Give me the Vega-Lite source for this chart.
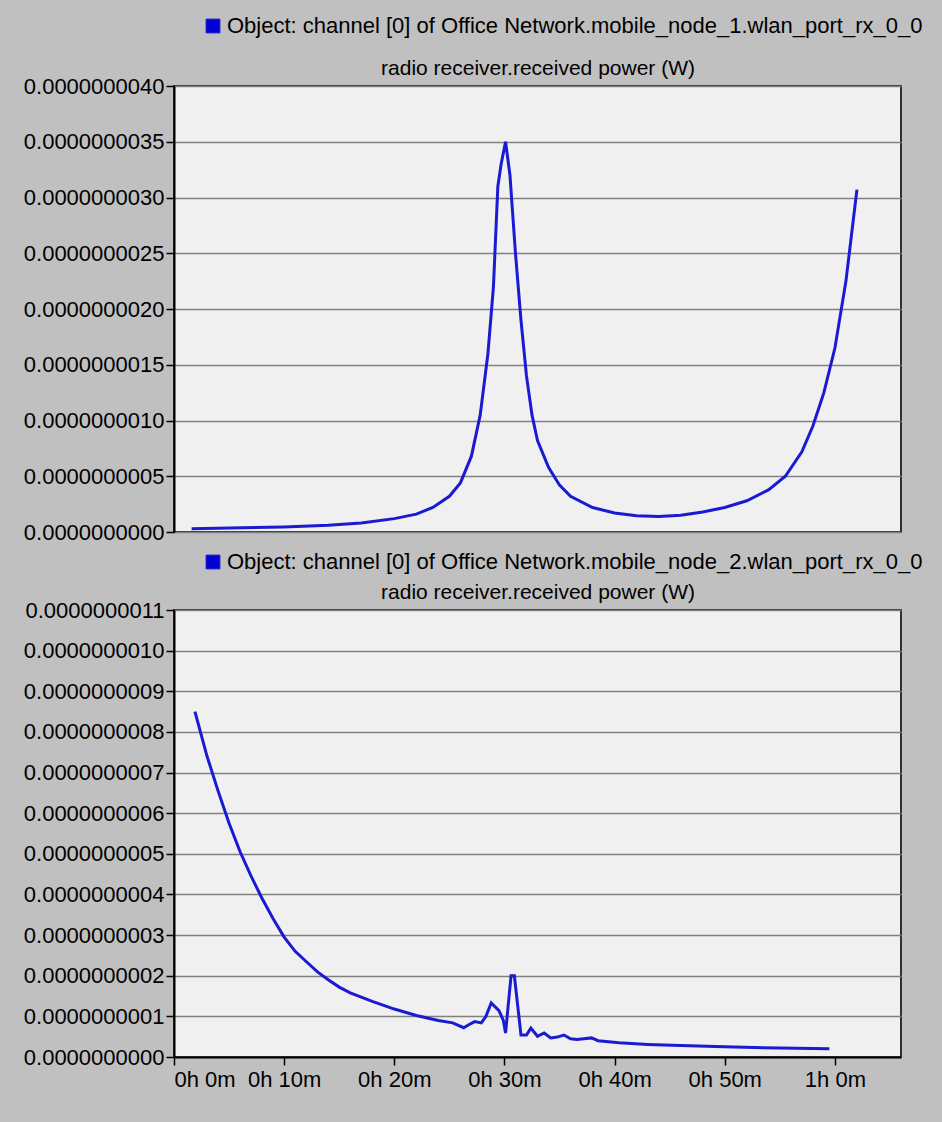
{
  "$schema": "https://vega.github.io/schema/vega-lite/v6.json",
  "background": "#c0c0c0",
  "padding": {"left": 22, "top": 14, "right": 40, "bottom": 32},
  "spacing": 6,
  "config": {
    "font": "Liberation Sans",
    "view": {"fill": "#f0f0f0", "stroke": "#303030", "strokeWidth": 2},
    "axis": {
      "labelFont": "Liberation Sans",
      "labelFontSize": 22,
      "labelColor": "#000000",
      "domainColor": "#000000",
      "domainWidth": 2,
      "tickColor": "#000000",
      "tickWidth": 1.5,
      "tickSize": 8,
      "labelPadding": 2,
      "gridColor": "#808080",
      "gridWidth": 1.5,
      "gridOpacity": 1,
      "titleFont": "Liberation Sans",
      "titleFontSize": 21,
      "titleFontWeight": "normal",
      "titleColor": "#000000"
    },
    "legend": {
      "labelFont": "Liberation Sans",
      "labelFontSize": 22,
      "labelColor": "#000000",
      "labelLimit": 0,
      "symbolType": "square",
      "symbolSize": 190,
      "symbolStrokeColor": "#000030",
      "symbolStrokeWidth": 1,
      "symbolOpacity": 1,
      "symbolFillColor": "#0000d0",
      "labelOffset": 3
    }
  },
  "datasets": {
    "node1": [
      {"minutes": 1.6, "power": 0.03e-9},
      {"minutes": 5, "power": 0.035e-9},
      {"minutes": 10, "power": 0.045e-9},
      {"minutes": 14, "power": 0.06e-9},
      {"minutes": 17, "power": 0.08e-9},
      {"minutes": 20, "power": 0.12e-9},
      {"minutes": 22, "power": 0.16e-9},
      {"minutes": 23.5, "power": 0.22e-9},
      {"minutes": 25, "power": 0.32e-9},
      {"minutes": 26, "power": 0.44e-9},
      {"minutes": 27, "power": 0.68e-9},
      {"minutes": 27.8, "power": 1.05e-9},
      {"minutes": 28.5, "power": 1.6e-9},
      {"minutes": 29, "power": 2.2e-9},
      {"minutes": 29.4, "power": 3.1e-9},
      {"minutes": 29.7, "power": 3.3e-9},
      {"minutes": 30.1, "power": 3.5e-9},
      {"minutes": 30.5, "power": 3.2e-9},
      {"minutes": 31, "power": 2.5e-9},
      {"minutes": 31.5, "power": 1.9e-9},
      {"minutes": 32, "power": 1.4e-9},
      {"minutes": 32.5, "power": 1.05e-9},
      {"minutes": 33, "power": 0.82e-9},
      {"minutes": 34, "power": 0.58e-9},
      {"minutes": 35, "power": 0.42e-9},
      {"minutes": 36, "power": 0.32e-9},
      {"minutes": 38, "power": 0.22e-9},
      {"minutes": 40, "power": 0.17e-9},
      {"minutes": 42, "power": 0.145e-9},
      {"minutes": 44, "power": 0.14e-9},
      {"minutes": 46, "power": 0.15e-9},
      {"minutes": 48, "power": 0.18e-9},
      {"minutes": 50, "power": 0.22e-9},
      {"minutes": 52, "power": 0.28e-9},
      {"minutes": 54, "power": 0.38e-9},
      {"minutes": 55.5, "power": 0.5e-9},
      {"minutes": 57, "power": 0.72e-9},
      {"minutes": 58, "power": 0.95e-9},
      {"minutes": 59, "power": 1.25e-9},
      {"minutes": 60, "power": 1.65e-9},
      {"minutes": 61, "power": 2.25e-9},
      {"minutes": 62, "power": 3.07e-9}
    ],
    "node2": [
      {"minutes": 1.9, "power": 0.85e-9},
      {"minutes": 2.3, "power": 0.81e-9},
      {"minutes": 3, "power": 0.74e-9},
      {"minutes": 4, "power": 0.655e-9},
      {"minutes": 5, "power": 0.575e-9},
      {"minutes": 6, "power": 0.505e-9},
      {"minutes": 7, "power": 0.445e-9},
      {"minutes": 8, "power": 0.39e-9},
      {"minutes": 9, "power": 0.34e-9},
      {"minutes": 10, "power": 0.295e-9},
      {"minutes": 11, "power": 0.26e-9},
      {"minutes": 12, "power": 0.235e-9},
      {"minutes": 13, "power": 0.21e-9},
      {"minutes": 14, "power": 0.19e-9},
      {"minutes": 15, "power": 0.172e-9},
      {"minutes": 16, "power": 0.158e-9},
      {"minutes": 18, "power": 0.137e-9},
      {"minutes": 20, "power": 0.118e-9},
      {"minutes": 22, "power": 0.102e-9},
      {"minutes": 24, "power": 0.09e-9},
      {"minutes": 25.3, "power": 0.084e-9},
      {"minutes": 26.3, "power": 0.072e-9},
      {"minutes": 26.8, "power": 0.08e-9},
      {"minutes": 27.3, "power": 0.087e-9},
      {"minutes": 27.9, "power": 0.084e-9},
      {"minutes": 28.3, "power": 0.099e-9},
      {"minutes": 28.8, "power": 0.133e-9},
      {"minutes": 29.5, "power": 0.114e-9},
      {"minutes": 29.9, "power": 0.09e-9},
      {"minutes": 30.1, "power": 0.059e-9},
      {"minutes": 30.6, "power": 0.2e-9},
      {"minutes": 30.9, "power": 0.2e-9},
      {"minutes": 31.5, "power": 0.054e-9},
      {"minutes": 32.0, "power": 0.054e-9},
      {"minutes": 32.4, "power": 0.071e-9},
      {"minutes": 33.0, "power": 0.051e-9},
      {"minutes": 33.6, "power": 0.059e-9},
      {"minutes": 34.2, "power": 0.047e-9},
      {"minutes": 34.8, "power": 0.049e-9},
      {"minutes": 35.4, "power": 0.054e-9},
      {"minutes": 36.0, "power": 0.045e-9},
      {"minutes": 36.6, "power": 0.043e-9},
      {"minutes": 37.2, "power": 0.045e-9},
      {"minutes": 37.9, "power": 0.047e-9},
      {"minutes": 38.5, "power": 0.04e-9},
      {"minutes": 40.4, "power": 0.035e-9},
      {"minutes": 43, "power": 0.031e-9},
      {"minutes": 46, "power": 0.028e-9},
      {"minutes": 50, "power": 0.025e-9},
      {"minutes": 55, "power": 0.022e-9},
      {"minutes": 59.5, "power": 0.02e-9}
    ]
  },
  "vconcat": [
    {
      "width": 727,
      "height": 446,
      "data": {"name": "node1"},
      "mark": {"type": "line", "strokeWidth": 3, "color": "#1a1ad2"},
      "encoding": {
        "x": {"field": "minutes", "type": "quantitative", "scale": {"domain": [0, 66], "nice": false},
              "axis": {"orient": "top", "labels": false, "ticks": false, "grid": false, "domain": false,
                       "title": "radio receiver.received power (W)", "titlePadding": 8}},
        "y": {"field": "power", "type": "quantitative", "scale": {"domain": [0, 4e-9], "nice": false},
              "axis": {"values": [0, 0.5e-9, 1e-9, 1.5e-9, 2e-9, 2.5e-9, 3e-9, 3.5e-9, 4e-9], "format": ".10f", "title": null}},
        "color": {"datum": "Object: channel [0] of Office Network.mobile_node_1.wlan_port_rx_0_0", "type": "nominal",
                  "scale": {"range": ["#1a1ad2"]},
                  "legend": {"orient": "none", "legendX": 28, "legendY": -71, "title": null}}
      }
    },
    {
      "width": 727,
      "height": 447,
      "data": {"name": "node2"},
      "encoding": {
        "y": {"field": "power", "type": "quantitative", "scale": {"domain": [0, 1.1e-9], "nice": false},
              "axis": {"values": [0, 0.1e-9, 0.2e-9, 0.3e-9, 0.4e-9, 0.5e-9, 0.6e-9, 0.7e-9, 0.8e-9, 0.9e-9, 1e-9, 1.1e-9], "format": ".10f", "title": null}}
      },
      "layer": [
        {
          "mark": {"type": "line", "strokeWidth": 3, "opacity": 0},
          "encoding": {
            "x": {"field": "minutes", "type": "quantitative", "scale": {"domain": [0, 66], "nice": false},
                  "axis": {"orient": "top", "labels": false, "ticks": false, "grid": false, "domain": false,
                           "title": "radio receiver.received power (W)", "titlePadding": 8}}
          }
        },
        {
          "mark": {"type": "line", "strokeWidth": 3, "color": "#1a1ad2"},
          "encoding": {
            "x": {"field": "minutes", "type": "quantitative", "scale": {"domain": [0, 66], "nice": false},
                  "axis": {"orient": "bottom", "values": [0, 10, 20, 30, 40, 50, 60], "grid": false, "title": null, "labelPadding": 4,
                           "labelExpr": "floor(datum.value / 60) + 'h ' + (datum.value % 60) + 'm'"}},
            "color": {"datum": "Object: channel [0] of Office Network.mobile_node_2.wlan_port_rx_0_0", "type": "nominal",
                      "scale": {"range": ["#1a1ad2"]},
                      "legend": {"orient": "none", "legendX": 28, "legendY": -59, "title": null}}
          }
        }
      ],
      "resolve": {"axis": {"x": "independent"}}
    }
  ],
  "resolve": {"scale": {"color": "independent"}}
}
